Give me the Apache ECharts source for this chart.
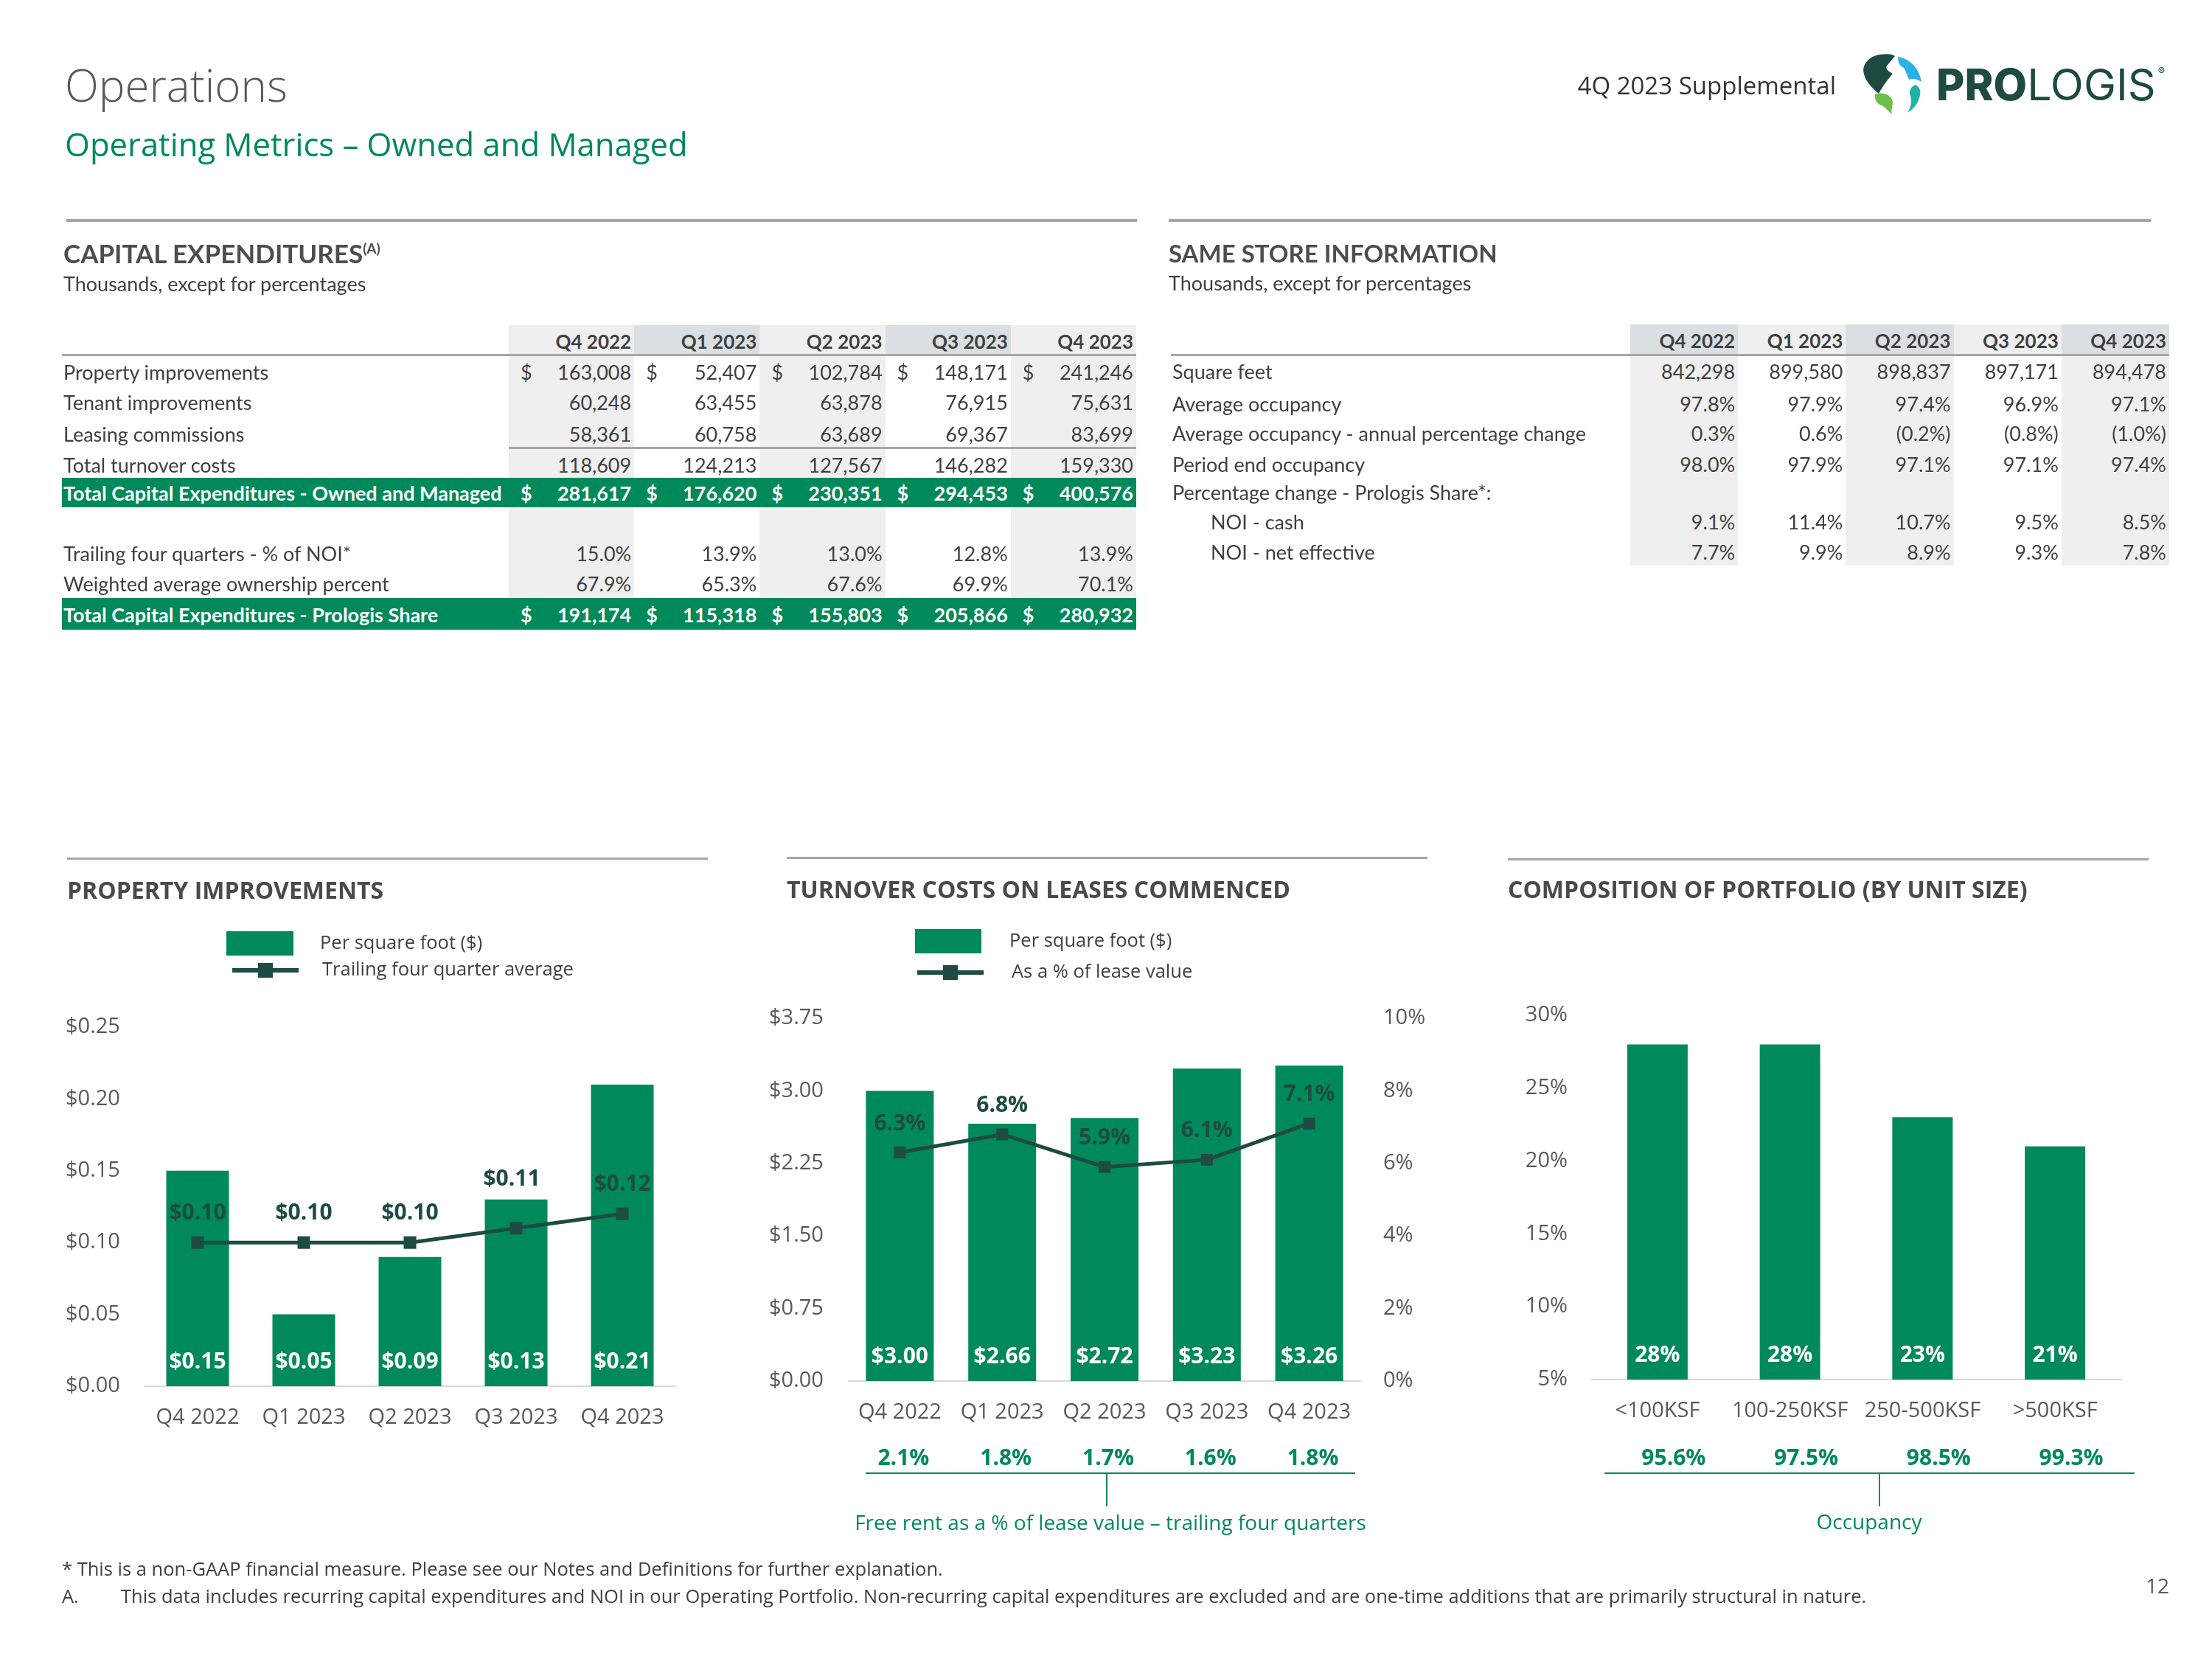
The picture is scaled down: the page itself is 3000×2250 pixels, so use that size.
<!DOCTYPE html>
<html>
<head>
<meta charset="utf-8">
<title>Operations - Operating Metrics</title>
<script src="https://cdn.jsdelivr.net/npm/echarts@6.0.0/dist/echarts.min.js"></script>
<style>
html,body{margin:0;padding:0;background:#fff;}
body{width:3000px;height:2250px;position:relative;overflow:hidden;font-family:'Open Sans',sans-serif;color:#404040;}
#chart{position:absolute;left:0;top:0;width:3000px;height:2250px;}
.t{position:absolute;white-space:nowrap;line-height:1;}
.b{position:absolute;}
</style>
</head>
<body>
<div id="chart"></div>
<svg id="logo" style="position:absolute;left:0;top:0" width="3000" height="200">
  <path d="M2545,75 C2558,72 2566,73 2570,76 L2560,88 C2555,93 2562,97 2567,100 C2560,108 2554,116 2548,127 C2537,118 2528,108 2527,95 C2528,85 2535,78 2545,75 Z" fill="#1D4A41"/>
  <path d="M2574,77 C2591,80 2603,93 2606,111 C2600,107 2594,106 2589,108 C2586,100 2584,95 2582,92 C2577,90 2574,85 2574,77 Z" fill="#2BB0E3"/>
  <path d="M2598,115 C2604,118 2606,125 2603,133 C2600,142 2595,148 2587,153 C2592,145 2593,138 2591,130 C2588,124 2592,117 2598,115 Z" fill="#1FB3A3"/>
  <path d="M2543,128 C2553,124 2565,128 2567,138 C2567,145 2564,150 2566,155 C2560,150 2557,145 2550,142 C2545,140 2542,135 2543,128 Z" fill="#6CC04A"/>
</svg>
<script>
// ---------------- DATA ----------------
const quarters = ['Q4 2022', 'Q1 2023', 'Q2 2023', 'Q3 2023', 'Q4 2023'];

// Capital expenditures (thousands)
const capexPropertyImprovements = [163008, 52407, 102784, 148171, 241246];
const capexTenantImprovements = [60248, 63455, 63878, 76915, 75631];
const capexLeasingCommissions = [58361, 60758, 63689, 69367, 83699];
const capexTotalTurnover = [118609, 124213, 127567, 146282, 159330];
const capexTotalOwnedManaged = [281617, 176620, 230351, 294453, 400576];
const capexTrailingPctNOI = [15.0, 13.9, 13.0, 12.8, 13.9];
const capexWeightedOwnership = [67.9, 65.3, 67.6, 69.9, 70.1];
const capexTotalPrologisShare = [191174, 115318, 155803, 205866, 280932];

// Same store information
const ssSquareFeet = [842298, 899580, 898837, 897171, 894478];
const ssAvgOccupancy = [97.8, 97.9, 97.4, 96.9, 97.1];
const ssAvgOccChange = [0.3, 0.6, -0.2, -0.8, -1.0];
const ssPeriodEndOcc = [98.0, 97.9, 97.1, 97.1, 97.4];
const ssNoiCash = [9.1, 11.4, 10.7, 9.5, 8.5];
const ssNoiNetEffective = [7.7, 9.9, 8.9, 9.3, 7.8];

// Property improvements chart
const piPerSqFt = [0.15, 0.05, 0.09, 0.13, 0.21];
const piTrailingAvg = [0.10, 0.10, 0.10, 0.11, 0.12];

// Turnover costs chart
const tcPerSqFt = [3.00, 2.66, 2.72, 3.23, 3.26];
const tcPctLeaseValue = [6.3, 6.8, 5.9, 6.1, 7.1];
const tcFreeRent = [2.1, 1.8, 1.7, 1.6, 1.8];

// Composition of portfolio chart
const compCategories = ['<100KSF', '100-250KSF', '250-500KSF', '>500KSF'];
const compShare = [28, 28, 23, 21];
const compOccupancy = [95.6, 97.5, 98.5, 99.3];

// ---------------- STYLE ----------------
const GREEN = '#00895A', DARK = '#1E4B43', AXC = '#595959', TXT = '#404040';
const SHADE = '#efefef', SHADE2 = '#dadfe2', RULE = '#a6a6a6';

// ---------------- HELPERS ----------------
function T(x, y, s, o) {
  o = o || {};
  const d = document.createElement('div');
  d.className = 't';
  d.textContent = s;
  d.style.left = x + 'px';
  d.style.top = y + 'px';
  const ax = o.align === 'right' ? '-100%' : (o.align === 'center' ? '-50%' : '0');
  d.style.transform = 'translate(' + ax + ',-50%)';
  d.style.fontSize = (o.size || 26) + 'px';
  if (o.weight) d.style.fontWeight = o.weight;
  d.style.color = o.color || TXT;
  if (o.font) d.style.fontFamily = o.font;
  if (o.ls) d.style.letterSpacing = o.ls + 'px';
  document.body.appendChild(d);
  return d;
}
function R(x, y, w, h, c) {
  const d = document.createElement('div');
  d.className = 'b';
  Object.assign(d.style, {left: x + 'px', top: y + 'px', width: w + 'px', height: h + 'px', background: c});
  document.body.appendChild(d);
  return d;
}
const fmtNum = v => v.toLocaleString('en-US');
const fmtPct = v => v < 0 ? '(' + Math.abs(v).toFixed(1) + '%)' : v.toFixed(1) + '%';

// ---------------- HEADER ----------------
T(88, 115, 'Operations', {size: 60, weight: 300, color: '#595959'});
T(88, 196, 'Operating Metrics \u2013 Owned and Managed', {size: 43.6, weight: 400, color: GREEN});
T(2490, 115, '4Q 2023 Supplemental', {size: 33, color: '#333333', align: 'right'});
(function () {
  const d = document.createElement('div');
  d.className = 't';
  d.style.left = '2626px'; d.style.top = '114px';
  d.style.transform = 'translate(0,-50%)';
  d.style.fontFamily = 'Inter'; d.style.fontSize = '59px'; d.style.color = '#1D4A41';
  d.innerHTML = '<span style="font-weight:800">PRO</span><span style="font-weight:400">LOGIS</span><span style="font-size:14px;vertical-align:34px;margin-left:3px">&reg;</span>';
  document.body.appendChild(d);
})();

// ---------------- CAPEX TABLE ----------------
const TF = 'Lato';
const TS = 27;
R(90, 297, 1452, 4, RULE);
(function () {
  const d = T(86, 343, 'CAPITAL EXPENDITURES', {size: 35, weight: 700, color: '#4d4d4d', font: TF});
  d.innerHTML = 'CAPITAL EXPENDITURES<span style="font-size:19px;vertical-align:13px">(A)</span>';
})();
T(86, 384, 'Thousands, except for percentages', {size: 27, font: TF});

const capX0 = 690, capW = 170.2;
for (let i = 0; i < quarters.length; i++) {
  const x = capX0 + i * capW;
  R(x, 441, capW, 41, i % 2 === 0 ? SHADE : SHADE2);
  if (i % 2 === 0) R(x, 482, capW, 329, SHADE);
  T(x + capW - 4, 463, quarters[i], {size: 26, weight: 700, font: TF, align: 'right'});
}
R(84, 480, 1457, 3, RULE);
R(capX0, 606, 5 * capW, 3, RULE);

const capexRows = [
  ['Property improvements', capexPropertyImprovements, 'num', true, false],
  ['Tenant improvements', capexTenantImprovements, 'num', false, false],
  ['Leasing commissions', capexLeasingCommissions, 'num', false, false],
  ['Total turnover costs', capexTotalTurnover, 'num', false, false],
  ['Total Capital Expenditures - Owned and Managed', capexTotalOwnedManaged, 'num', true, true],
  ['Trailing four quarters - % of NOI*', capexTrailingPctNOI, 'pct', false, false],
  ['Weighted average ownership percent', capexWeightedOwnership, 'pct', false, false],
  ['Total Capital Expenditures - Prologis Share', capexTotalPrologisShare, 'num', true, true]
];
const capexRowY = [504, 545, 588, 630, 668, 750, 791, 833];
const capexBand = {4: [648, 40], 7: [811, 43]};
capexRows.forEach((row, r) => {
  const y = capexRowY[r];
  const green = row[4];
  if (green) R(84, capexBand[r][0], 1457, capexBand[r][1], GREEN);
  const col = green ? '#ffffff' : TXT;
  const wt = green ? 700 : 400;
  T(86, y, row[0], {size: TS, weight: wt, color: col, font: TF});
  row[1].forEach((v, i) => {
    const x = capX0 + i * capW;
    if (row[3]) T(x + 16, y, '$', {size: TS, weight: wt, color: col, font: TF});
    T(x + capW - 4, y, row[2] === 'pct' ? fmtPct(v) : fmtNum(v), {size: TS, weight: wt, color: col, font: TF, align: 'right'});
  });
});

// ---------------- SAME STORE TABLE ----------------
R(1585, 297, 1332, 4, RULE);
T(1585, 343, 'SAME STORE INFORMATION', {size: 33, weight: 700, color: '#4d4d4d', font: TF});
T(1585, 383, 'Thousands, except for percentages', {size: 27, font: TF});
const ssX0 = 2211, ssW = 146.2;
for (let i = 0; i < quarters.length; i++) {
  const x = ssX0 + i * ssW;
  R(x, 440, ssW, 41, i % 2 === 0 ? SHADE2 : SHADE);
  if (i % 2 === 0) R(x, 481, ssW, 286, SHADE);
  T(x + ssW - 4, 462, quarters[i], {size: 26, weight: 700, font: TF, align: 'right'});
}
R(1588, 480, 1354, 3, RULE);
const ssRows = [
  ['Square feet', ssSquareFeet, 'num', 0],
  ['Average occupancy', ssAvgOccupancy, 'pct', 0],
  ['Average occupancy - annual percentage change', ssAvgOccChange, 'pct', 0],
  ['Period end occupancy', ssPeriodEndOcc, 'pct', 0],
  ['Percentage change - Prologis Share*:', null, 'pct', 0],
  ['NOI - cash', ssNoiCash, 'pct', 1],
  ['NOI - net effective', ssNoiNetEffective, 'pct', 1]
];
const ssRowY = [503, 547, 587, 629, 667, 707, 748];
ssRows.forEach((row, r) => {
  const y = ssRowY[r];
  T(row[3] ? 1642 : 1590, y, row[0], {size: TS, font: TF});
  if (row[1]) row[1].forEach((v, i) => {
    const x = ssX0 + i * ssW;
    T(x + ssW - 4, y, row[2] === 'pct' ? fmtPct(v) : fmtNum(v), {size: TS, font: TF, align: 'right'});
  });
});

// ---------------- CHART SECTION TEXT ----------------
R(91, 1163, 869, 3, RULE);
R(1067, 1162, 869, 3, RULE);
R(2045, 1164, 869, 3, RULE);
T(91, 1207, 'PROPERTY IMPROVEMENTS', {size: 32, weight: 700, color: '#4a4a4a'});
T(1067, 1206, 'TURNOVER COSTS ON LEASES COMMENCED', {size: 32, weight: 700, color: '#4a4a4a'});
T(2045, 1206, 'COMPOSITION OF PORTFOLIO (BY UNIT SIZE)', {size: 32, weight: 700, color: '#4a4a4a'});

R(1174, 1997, 664, 2, GREEN);
R(1500, 1998, 2, 45, GREEN);
T(1506, 2064, 'Free rent as a % of lease value \u2013 trailing four quarters', {size: 28, color: GREEN, align: 'center'});
R(2176, 1997, 719, 2, GREEN);
R(2548, 1998, 2, 45, GREEN);
T(2535, 2063, 'Occupancy', {size: 28, color: GREEN, align: 'center'});

// ---------------- FOOTNOTES ----------------
T(84, 2128, '* This is a non-GAAP financial measure. Please see our Notes and Definitions for further explanation.', {size: 25.5});
T(84, 2165, 'A.', {size: 25.5});
T(164, 2165, 'This data includes recurring capital expenditures and NOI in our Operating Portfolio. Non-recurring capital expenditures are excluded and are one-time additions that are primarily structural in nature.', {size: 25.5});
T(2942, 2150, '12', {size: 28, color: '#595959', align: 'right'});

// ---------------- CHARTS ----------------
const chart = echarts.init(document.getElementById('chart'), null, {width: 3000, height: 2250});
const axLabel = {fontSize: 29, color: AXC, fontFamily: 'Open Sans'};
const legText = {fontSize: 25.5, color: TXT, fontFamily: 'Open Sans'};
const barLabel = {show: true, position: 'insideBottom', distance: 18, color: '#ffffff', fontWeight: 'bold', fontSize: 30, fontFamily: 'Open Sans'};
const lineLabel = {show: true, position: 'top', distance: 16, color: DARK, fontWeight: 'bold', fontSize: 30, fontFamily: 'Open Sans'};
const noLine = {show: false}, noTick = {show: false}, noSplit = {show: false};
const baseLine = {show: true, lineStyle: {color: '#d9d9d9', width: 2}};
const legLine = {width: 6, color: DARK};

// the Q3 2023 trailing-average label sits higher in the original to clear the bar top
const piTrailingItems = piTrailingAvg.map((v, i) => i === 3 ? {value: v, label: {offset: [-6, -27]}} : v);

chart.setOption({
  animation: false,
  backgroundColor: 'transparent',
  textStyle: {fontFamily: 'Open Sans'},
  legend: [
    {data: ['Per square foot ($)'], left: 307, top: 1263, padding: 0, itemWidth: 91, itemHeight: 33, icon: 'rect', selectedMode: false, textStyle: Object.assign({padding: [0, 0, 0, 31]}, legText)},
    {data: ['Trailing four quarter average'], left: 312, top: 1303, padding: 0, itemWidth: 90, itemHeight: 25, selectedMode: false, lineStyle: legLine, textStyle: Object.assign({padding: [0, 0, 0, 27]}, legText)},
    {data: ['Per square foot ($)'], left: 1241, top: 1260, padding: 0, itemWidth: 90, itemHeight: 33, icon: 'rect', selectedMode: false, textStyle: Object.assign({padding: [0, 0, 0, 33]}, legText)},
    {data: ['As a % of lease value'], left: 1241, top: 1306, padding: 0, itemWidth: 90, itemHeight: 25, selectedMode: false, lineStyle: legLine, textStyle: Object.assign({padding: [0, 0, 0, 33]}, legText)}
  ],
  grid: [
    {left: 196, top: 1393, width: 720, height: 487, containLabel: false, outerBoundsMode: 'none'},
    {left: 1151, top: 1381, width: 694, height: 492, containLabel: false, outerBoundsMode: 'none'},
    {left: 2158, top: 1377, width: 719, height: 494, containLabel: false, outerBoundsMode: 'none'}
  ],
  xAxis: [
    {gridIndex: 0, type: 'category', data: quarters, axisTick: noTick, axisLine: baseLine, axisLabel: Object.assign({margin: 28, interval: 0}, axLabel)},
    {gridIndex: 1, type: 'category', data: quarters, axisTick: noTick, axisLine: baseLine, axisLabel: Object.assign({margin: 28, interval: 0}, axLabel)},
    {gridIndex: 1, type: 'category', position: 'bottom', offset: 90, data: tcFreeRent.map(v => v.toFixed(1) + '%'), axisTick: noTick, axisLine: noLine,
      axisLabel: {margin: 0, interval: 0, fontSize: 30, fontWeight: 'bold', color: GREEN, fontFamily: 'Open Sans', padding: [0, 0, 0, 10]}},
    {gridIndex: 2, type: 'category', data: compCategories, axisTick: noTick, axisLine: baseLine, axisLabel: Object.assign({margin: 28, interval: 0}, axLabel)},
    {gridIndex: 2, type: 'category', position: 'bottom', offset: 92, data: compOccupancy.map(v => v.toFixed(1) + '%'), axisTick: noTick, axisLine: noLine,
      axisLabel: {margin: 0, interval: 0, fontSize: 30, fontWeight: 'bold', color: GREEN, fontFamily: 'Open Sans', padding: [0, 0, 0, 44]}}
  ],
  yAxis: [
    {gridIndex: 0, type: 'value', min: 0, max: 0.25, interval: 0.05, axisLine: noLine, axisTick: noTick, splitLine: noSplit,
      axisLabel: Object.assign({align: 'left', margin: 107, formatter: v => '$' + v.toFixed(2)}, axLabel)},
    {gridIndex: 1, type: 'value', min: 0, max: 3.75, interval: 0.75, axisLine: noLine, axisTick: noTick, splitLine: noSplit,
      axisLabel: Object.assign({align: 'left', margin: 108, formatter: v => '$' + v.toFixed(2)}, axLabel)},
    {gridIndex: 1, type: 'value', position: 'right', min: 0, max: 10, interval: 2, axisLine: noLine, axisTick: noTick, splitLine: noSplit,
      axisLabel: Object.assign({align: 'left', margin: 31, formatter: v => Math.round(v) + '%'}, axLabel)},
    {gridIndex: 2, type: 'value', min: 5, max: 30, interval: 5, startValue: 5, axisLine: noLine, axisTick: noTick, splitLine: noSplit,
      axisLabel: Object.assign({align: 'right', margin: 32, formatter: v => Math.round(v) + '%'}, axLabel)}
  ],
  series: [
    {type: 'bar', name: 'Per square foot ($)', xAxisIndex: 0, yAxisIndex: 0, data: piPerSqFt, barWidth: 85,
      itemStyle: {color: GREEN}, label: Object.assign({formatter: p => '$' + p.value.toFixed(2)}, barLabel)},
    {type: 'line', name: 'Trailing four quarter average', xAxisIndex: 0, yAxisIndex: 0, data: piTrailingItems,
      symbol: 'rect', symbolSize: 17, lineStyle: {width: 5, color: DARK}, itemStyle: {color: DARK},
      label: Object.assign({formatter: p => '$' + p.value.toFixed(2)}, lineLabel)},
    {type: 'bar', name: 'Per square foot ($)', xAxisIndex: 1, yAxisIndex: 1, data: tcPerSqFt, barWidth: 92,
      itemStyle: {color: GREEN}, label: Object.assign({formatter: p => '$' + p.value.toFixed(2)}, barLabel)},
    {type: 'line', name: 'As a % of lease value', xAxisIndex: 1, yAxisIndex: 2, data: tcPctLeaseValue,
      symbol: 'rect', symbolSize: 16, lineStyle: {width: 5, color: DARK}, itemStyle: {color: DARK},
      label: Object.assign({formatter: p => p.value.toFixed(1) + '%'}, lineLabel)},
    {type: 'bar', name: 'Composition', xAxisIndex: 3, yAxisIndex: 3, data: compShare, barWidth: 82, clip: true,
      itemStyle: {color: GREEN}, label: Object.assign({formatter: p => p.value + '%'}, barLabel)}
  ]
});
</script>
</body>
</html>
